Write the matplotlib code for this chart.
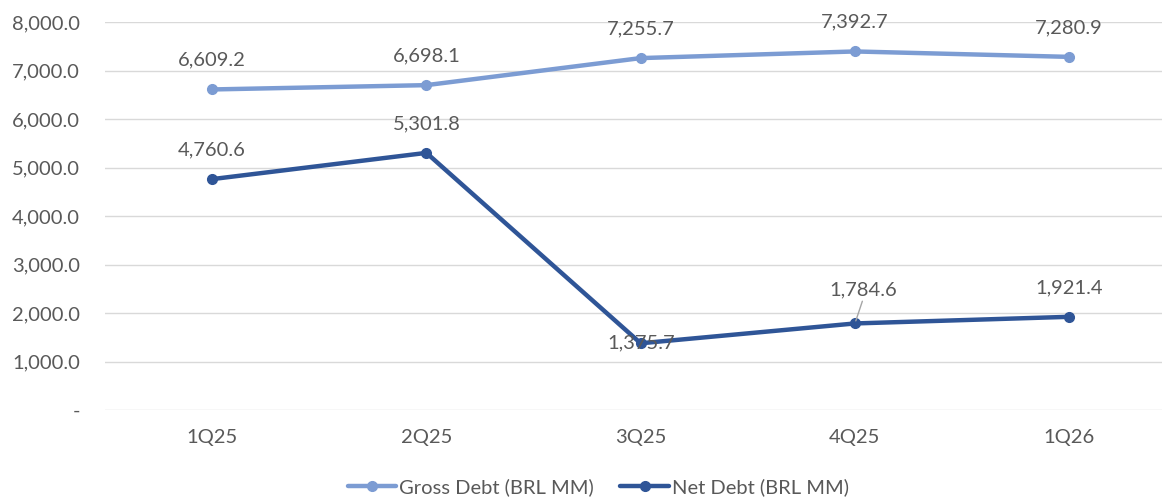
import matplotlib.pyplot as plt
from matplotlib.ticker import FuncFormatter

quarters = ["1Q25", "2Q25", "3Q25", "4Q25", "1Q26"]
gross_debt = [6609.2, 6698.1, 7255.7, 7392.7, 7280.9]
net_debt = [4760.6, 5301.8, 1375.7, 1784.6, 1921.4]

gross_color = "#7C9CD3"
net_color = "#2F5597"
txt_color = "#595959"
fs = 14.5

plt.rcParams['font.family'] = ['Lato', 'DejaVu Sans']

fig = plt.figure(figsize=(11.62, 4.99), dpi=100)
ax = fig.add_axes([105 / 1162, 1 - 410 / 499, 1 - 105 / 1162, (410 - 22) / 499])

x = range(len(quarters))
ax.plot(x, gross_debt, color=gross_color, lw=3.2, marker="o", ms=7,
        label="Gross Debt (BRL MM)", solid_capstyle="round")
ax.plot(x, net_debt, color=net_color, lw=3.2, marker="o", ms=7,
        label="Net Debt (BRL MM)", solid_capstyle="round")

ax.set_xlim(-0.5, 4.433)
ax.set_ylim(0, 8000)
ax.set_yticks(range(0, 8001, 1000))
ax.yaxis.set_major_formatter(FuncFormatter(lambda v, p: "-" if v == 0 else f"{v:,.1f}"))
ax.set_xticks(list(x))
ax.set_xticklabels(quarters)
ax.grid(axis="y", color="#D9D9D9", lw=1)
ax.set_axisbelow(True)
for s in ax.spines.values():
    s.set_visible(False)
ax.tick_params(length=0, colors=txt_color, labelsize=fs)
ax.tick_params(axis="y", pad=18)
ax.tick_params(axis="x", pad=14)

# data labels
for i, v in enumerate(gross_debt):
    ax.annotate(f"{v:,.1f}", (i, v), xytext=(0, 15), textcoords="offset points",
                ha="center", va="bottom", color=txt_color, fontsize=fs)
for i, v in enumerate(net_debt):
    if i == 2:
        ax.annotate(f"{v:,.1f}", (i, v), xytext=(0, 0), textcoords="offset points",
                    ha="center", va="center", color=txt_color, fontsize=fs)
    elif i == 3:
        ax.annotate(f"{v:,.1f}", (i, v), xytext=(6, 18), textcoords="offset points",
                    ha="center", va="bottom", color=txt_color, fontsize=fs,
                    arrowprops=dict(arrowstyle="-", color="#A6A6A6", lw=1,
                                    shrinkA=0, shrinkB=2, relpos=(0.5, 0)))
    else:
        ax.annotate(f"{v:,.1f}", (i, v), xytext=(0, 15), textcoords="offset points",
                    ha="center", va="bottom", color=txt_color, fontsize=fs)

leg = fig.legend(loc="lower center", bbox_to_anchor=(0.515, -0.03), ncol=2, frameon=False,
                 fontsize=fs, handlelength=2.4, handletextpad=0.15, columnspacing=1.3)
for t in leg.get_texts():
    t.set_color(txt_color)

fig.savefig("out.png", dpi=100)
